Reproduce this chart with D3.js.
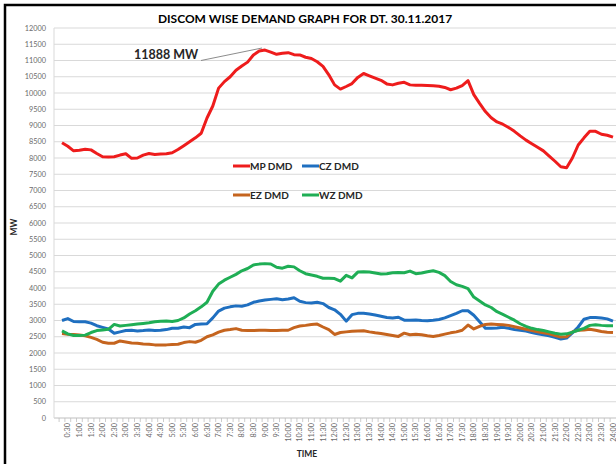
<!DOCTYPE html>
<html>
<head>
<meta charset="utf-8">
<script src="https://cdn.jsdelivr.net/npm/d3@7"></script>
<style>
  html, body { margin: 0; padding: 0; background: #fff; }
  svg { display: block; font-family: Lato, "Open Sans", sans-serif; }
</style>
</head>
<body>
<svg id="chart" width="616" height="464"></svg>
<script>
// 15-minute blocks 0:15 .. 24:00
const times = [];
for (let m = 15; m <= 1440; m += 15) {
  times.push(Math.floor(m / 60) + ":" + String(m % 60).padStart(2, "0"));
}

const mpDmd = [8470, 8360, 8220, 8240, 8270, 8250, 8140, 8040, 8030, 8040,
  8090, 8130, 7990, 8000, 8090, 8140, 8110, 8120, 8130, 8160,
  8260, 8380, 8500, 8620, 8760, 9230, 9600, 10150, 10350, 10500,
  10700, 10830, 10950, 11170, 11290, 11320, 11260, 11190, 11220, 11240,
  11180, 11170, 11100, 11060, 10960, 10820, 10560, 10250, 10120, 10200,
  10290, 10480, 10600, 10530, 10460, 10390, 10280, 10250, 10300, 10330,
  10250, 10240, 10235, 10230, 10225, 10210, 10170, 10100, 10150, 10230,
  10380, 9950, 9680, 9430, 9240, 9110, 9040, 8940, 8820, 8680,
  8550, 8440, 8330, 8220, 8060, 7900, 7730, 7700, 8000, 8400,
  8620, 8820, 8820, 8730, 8700, 8640];

const czDmd = [3000, 3060, 2970, 2960, 2960, 2920, 2840, 2790, 2740, 2610,
  2650, 2690, 2700, 2680, 2690, 2705, 2690, 2700, 2720, 2760,
  2760, 2800, 2780, 2880, 2890, 2900, 3080, 3290, 3380, 3420,
  3450, 3440, 3480, 3560, 3600, 3630, 3650, 3670, 3640, 3660,
  3700, 3590, 3550, 3540, 3560, 3520, 3400, 3330, 3190, 2980,
  3180, 3220, 3220, 3200, 3170, 3130, 3090, 3080, 3100, 3010,
  3010, 3015, 3000, 2995, 3005, 3030, 3080, 3150, 3220, 3300,
  3300, 3160, 2960, 2760, 2760, 2770, 2790, 2760, 2725, 2700,
  2675, 2630, 2590, 2560, 2530, 2485, 2430, 2460, 2620, 2800,
  3040, 3090, 3090, 3075, 3050, 2980];

const ezDmd = [2600, 2580, 2570, 2555, 2530, 2480, 2420, 2330, 2300, 2300,
  2370, 2340, 2310, 2300, 2280, 2270, 2250, 2250, 2250, 2260,
  2270, 2320, 2350, 2330, 2390, 2500, 2560, 2640, 2700, 2720,
  2750, 2700, 2690, 2690, 2700, 2700, 2690, 2690, 2700, 2700,
  2780, 2830, 2850, 2880, 2890, 2800, 2720, 2570, 2630, 2650,
  2670, 2680, 2685, 2650, 2620, 2600, 2570, 2540, 2510, 2610,
  2560, 2580, 2560, 2530, 2510, 2540, 2580, 2620, 2650, 2700,
  2860, 2740, 2820, 2880, 2890, 2880, 2870, 2850, 2810, 2770,
  2730, 2690, 2650, 2620, 2590, 2540, 2490, 2500, 2650, 2700,
  2710, 2730, 2700, 2660, 2640, 2630];

const wzDmd = [2680, 2590, 2540, 2540, 2550, 2630, 2690, 2710, 2730, 2880,
  2830, 2850, 2870, 2890, 2910, 2930, 2960, 2980, 2985, 2970,
  3000, 3080, 3200, 3300, 3420, 3560, 3900, 4120, 4240, 4330,
  4420, 4530, 4600, 4710, 4735, 4750, 4740, 4640, 4610, 4670,
  4650, 4530, 4440, 4400, 4360, 4300, 4300, 4290, 4210, 4390,
  4310, 4490, 4500, 4490, 4460, 4430, 4440, 4470, 4480, 4470,
  4520, 4440, 4460, 4500, 4530, 4480, 4380, 4200, 4100, 4050,
  3980, 3720, 3600, 3480, 3400, 3270, 3190, 3100, 3010, 2900,
  2820, 2760, 2720, 2690, 2650, 2610, 2580, 2590, 2640, 2700,
  2760, 2850, 2870, 2850, 2840, 2840];

const seriesNames = ["MP DMD", "CZ DMD", "EZ DMD", "WZ DMD"];
const seriesColors = ["#ee1c1c", "#1f6fc0", "#c5641e", "#1fae55"];
const seriesData = [mpDmd, czDmd, ezDmd, wzDmd];
const yTicks = d3.range(0, 12001, 500);

const svg = d3.select("#chart");

const x = d3.scalePoint().domain(times).range([62, 613]);
const y = d3.scaleLinear().domain([0, 12000]).range([418, 28]);
const step = x.step();

// outer frame (cropped on right and bottom)
svg.append("rect")
  .attr("x", 5).attr("y", 5).attr("width", 700).attr("height", 600)
  .attr("fill", "none").attr("stroke", "#000").attr("stroke-width", 2.5);

// gridlines
svg.append("g").selectAll("line")
  .data(yTicks.filter(d => d > 0))
  .enter().append("line")
  .attr("x1", 54).attr("x2", 616)
  .attr("y1", d => y(d)).attr("y2", d => y(d))
  .attr("stroke", "#d9d9d9").attr("stroke-width", 1.2);

// axis lines
svg.append("line")
  .attr("x1", 54).attr("x2", 616).attr("y1", y(0)).attr("y2", y(0))
  .attr("stroke", "#bfbfbf").attr("stroke-width", 1);
svg.append("line")
  .attr("x1", 54).attr("x2", 54).attr("y1", y(0)).attr("y2", y(12000))
  .attr("stroke", "#d9d9d9").attr("stroke-width", 1);

// y labels
svg.append("g").selectAll("text")
  .data(yTicks)
  .enter().append("text")
  .attr("x", 46).attr("y", d => y(d) + 2.5)
  .attr("text-anchor", "end")
  .attr("font-size", 7.3).attr("fill", "#6b6b6b")
  .text(d => d);

// x tick marks between categories
svg.append("g").selectAll("line")
  .data(times)
  .enter().append("line")
  .attr("x1", d => x(d) - step / 2).attr("x2", d => x(d) - step / 2)
  .attr("y1", y(0)).attr("y2", y(0) + 4)
  .attr("stroke", "#bfbfbf").attr("stroke-width", 0.8);

// x labels every 30 minutes
svg.append("g").selectAll("text")
  .data(times.filter((d, i) => i % 2 === 1))
  .enter().append("text")
  .attr("transform", d => "translate(" + (x(d) + 2.5) + "," + 423 + ") rotate(-90)")
  .attr("text-anchor", "end")
  .attr("font-size", 7.3).attr("fill", "#6b6b6b")
  .text(d => d);

// lines
const line = d3.line()
  .x((d, i) => x(times[i]))
  .y(d => y(d))
  .curve(d3.curveLinear);

svg.append("g").selectAll("path")
  .data(seriesData)
  .enter().append("path")
  .attr("d", d => line(d))
  .attr("fill", "none")
  .attr("stroke", (d, i) => seriesColors[i])
  .attr("stroke-width", 3)
  .attr("stroke-linejoin", "round");

// title
svg.append("text")
  .attr("x", 305).attr("y", 23)
  .attr("text-anchor", "middle")
  .attr("font-size", 12).attr("font-weight", "bold").attr("fill", "#000")
  .text("DISCOM WISE DEMAND GRAPH FOR DT. 30.11.2017");

// peak annotation
svg.append("text")
  .attr("x", 134).attr("y", 59)
  .attr("font-size", 12.5).attr("font-weight", "bold").attr("fill", "#262626")
  .text("11888 MW");
svg.append("line")
  .attr("x1", 201).attr("y1", 60.5).attr("x2", 262).attr("y2", 48)
  .attr("stroke", "#7f7f7f").attr("stroke-width", 0.9);

// legend
const legendPos = [[233, 166], [302, 166], [233, 195], [302, 195]];
const legend = svg.append("g").selectAll("g")
  .data(seriesNames)
  .enter().append("g")
  .attr("transform", (d, i) => "translate(" + legendPos[i][0] + "," + legendPos[i][1] + ")");
legend.append("line")
  .attr("x1", 0).attr("x2", 17).attr("y1", 0).attr("y2", 0)
  .attr("stroke", (d, i) => seriesColors[i]).attr("stroke-width", 3);
legend.append("text")
  .attr("x", 17).attr("y", 3.5)
  .attr("font-size", 10).attr("font-weight", "bold").attr("fill", "#262626")
  .text(d => d);

// axis titles
svg.append("text")
  .attr("transform", "translate(17,227) rotate(-90)")
  .attr("text-anchor", "middle")
  .attr("font-size", 8.5).attr("font-weight", "bold").attr("fill", "#262626")
  .text("MW");
svg.append("text")
  .attr("x", 307).attr("y", 457)
  .attr("text-anchor", "middle")
  .attr("font-size", 8.5).attr("font-weight", "bold").attr("fill", "#262626")
  .text("TIME");
</script>
</body>
</html>
